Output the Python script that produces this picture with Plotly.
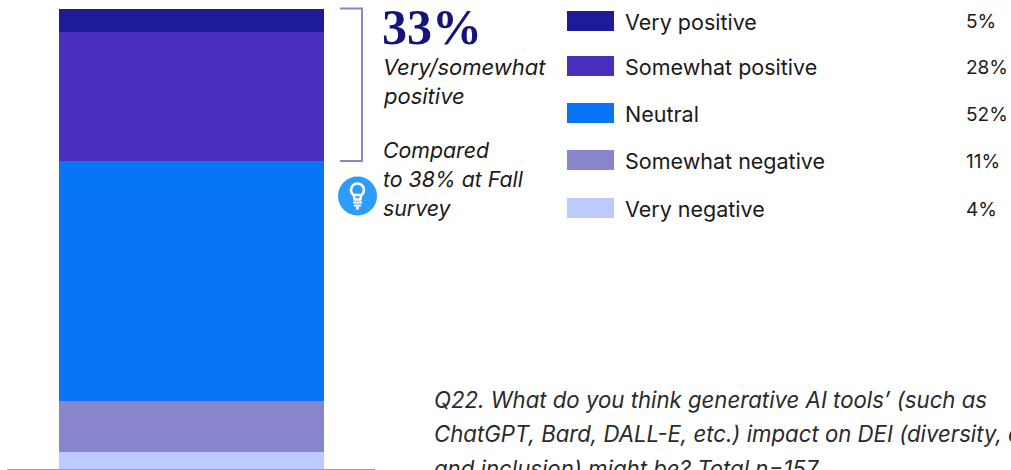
import plotly.graph_objects as go

W, H = 1011, 470
FONT = "Inter"

categories = ["Very negative", "Somewhat negative", "Neutral", "Somewhat positive", "Very positive"]
values = [3.7, 11.1, 52.2, 28.0, 5.0]
colors = ["#BBCBFF", "#8785CC", "#0875F9", "#4A2EBE", "#1E1A99"]

legend_order = ["Very positive", "Somewhat positive", "Neutral", "Somewhat negative", "Very negative"]
legend_pct = ["5%", "28%", "52%", "11%", "4%"]
legend_colors = ["#1E1A99", "#4A2EBE", "#0875F9", "#8785CC", "#BBCBFF"]

callout_value = "33%"
callout_lines = ["Very/somewhat", "positive"]
compare_lines = ["Compared", "to 38% at Fall", "survey"]
footnote_lines = [
    "Q22. What do you think generative AI tools\u2019 (such as",
    "ChatGPT, Bard, DALL-E, etc.) impact on DEI (diversity, equity,",
    "and inclusion) might be? Total n=157",
]


def px(x):
    return x / W


def py(y):
    return 1 - y / H


fig = go.Figure()
for cat, val, col in zip(categories, values, colors):
    fig.add_trace(go.Bar(x=[0], y=[val], name=cat, width=1,
                         marker=dict(color=col, line=dict(width=0)), showlegend=False))

shapes = []
annotations = []


def text(x, y, s, size=21.5, color="#1a1a1a", italic=False, family=FONT, anchor="left", bold=False):
    t = f"<b>{s}</b>" if bold else s
    annotations.append(dict(x=px(x), y=py(y), xref="paper", yref="paper", text=t, showarrow=False,
                            xanchor=anchor, yanchor="middle", align="left", xshift=0, yshift=0,
                            borderpad=0, borderwidth=0,
                            font=dict(size=size, color=color, family=family,
                                      style="italic" if italic else "normal")))


def rect(x0, y0, x1, y1, color):
    shapes.append(dict(type="rect", xref="paper", yref="paper", x0=px(x0), x1=px(x1), y0=py(y0), y1=py(y1),
                       fillcolor=color, line=dict(width=0), layer="above"))


def path(points, **kw):
    d = "M " + " L ".join(f"{px(a):.5f},{py(b):.5f}" for a, b in points)
    if kw.pop("closed", False):
        d += " Z"
    shapes.append(dict(type="path", xref="paper", yref="paper", path=d, layer="above", **kw))


# baseline
shapes.append(dict(type="line", xref="paper", yref="paper", x0=px(7), x1=px(375), y0=py(469.5), y1=py(469.5),
                   line=dict(color="#9A96D2", width=1), layer="above"))

# bracket
path([(340, 8.5), (362, 8.5), (362, 161), (340, 161)], line=dict(color="#8785CC", width=2))

# bulb icon
shapes.append(dict(type="circle", xref="paper", yref="paper", x0=px(338), x1=px(377), y0=py(176.5), y1=py(215.5),
                   fillcolor="#2E9BFF", line=dict(width=0), layer="above"))
shapes.append(dict(type="circle", xref="paper", yref="paper", x0=px(351), x1=px(364), y0=py(183.5), y1=py(196.5),
                   fillcolor="rgba(0,0,0,0)", line=dict(color="white", width=2.6), layer="above"))
path([(354, 195), (354.5, 199.5), (360.5, 199.5), (361, 195)], fillcolor="#2E9BFF", closed=True,
     line=dict(color="white", width=2.4))
rect(353, 201.5, 362, 203.5, "white")
rect(354, 204.5, 361, 206.5, "white")
rect(356, 206.5, 359, 209.5, "white")

# callout
text(382, 27, callout_value, size=50, color="#14147A", family="Liberation Serif", bold=True)
for i, s in enumerate(callout_lines):
    text(383, 67 + 29 * i, s, italic=True, size=22)
for i, s in enumerate(compare_lines):
    text(383, 150 + 29 * i, s, italic=True, size=21.3)

# legend
leg_y = [22, 67, 114, 161, 209]
for yy, name, pct, col in zip(leg_y, legend_order, legend_pct, legend_colors):
    rect(567, yy - 11, 614, yy + 9, col)
    text(625, yy, name)
    text(966, yy, pct, size=19)

# footnote
for i, s in enumerate(footnote_lines):
    text(434, 399 + 34.5 * i, s, italic=True, color="#2a2a2a", size=22.2)

fig.update_layout(
    width=W, height=H, margin=dict(l=0, r=0, t=0, b=0, pad=0),
    barmode="stack", paper_bgcolor="white", plot_bgcolor="white",
    xaxis=dict(range=[-0.7226, 3.0925], visible=False, fixedrange=True),
    yaxis=dict(range=[-0.217, 101.96], visible=False, fixedrange=True),
    shapes=shapes, annotations=annotations,
)
fig.write_html("out.html", config={"displayModeBar": False},
               post_script="document.body.style.margin='0';document.body.style.overflow='hidden';")
